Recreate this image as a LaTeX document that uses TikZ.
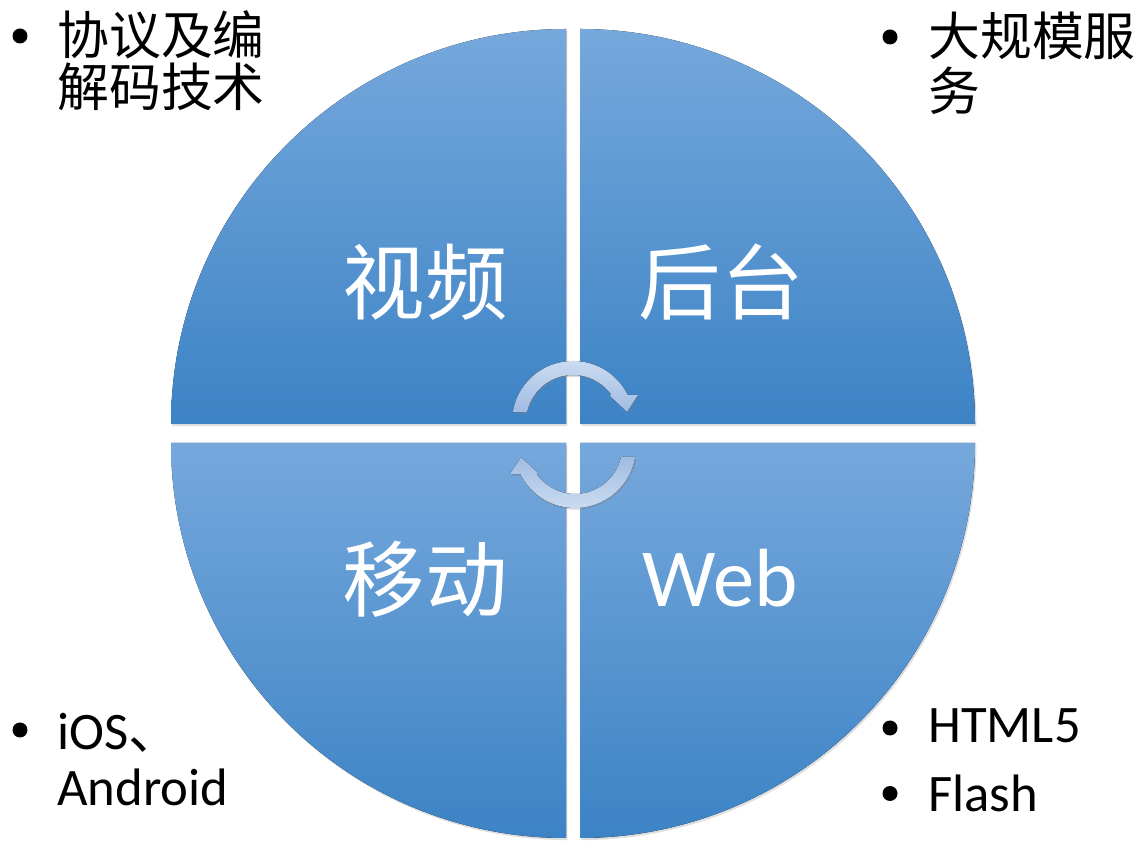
\documentclass[tikz,border=0pt]{standalone}
\usepackage{fontspec}
\setmainfont{Carlito}
\newfontfamily\cjk{Noto Sans CJK SC}
\usetikzlibrary{shadows}

\definecolor{quadTop}{RGB}{118,168,220}
\definecolor{quadBottom}{RGB}{60,131,197}
\definecolor{arrowTop}{RGB}{206,222,242}
\definecolor{arrowBottom}{RGB}{160,188,226}

\tikzset{
  quadrant/.style={top color=quadTop, bottom color=quadBottom,
    drop shadow={opacity=0.25, shadow xshift=0.8pt, shadow yshift=-1.2pt}},
  cyclearrow/.style={top color=arrowTop, bottom color=arrowBottom,
    drop shadow={opacity=0.3, shadow xshift=0.6pt, shadow yshift=-1pt}},
  title/.style={text=white, inner sep=0pt, font=\fontsize{47}{52}\selectfont},
  itemtext/.style={anchor=north west, inner sep=0pt, align=left},
  dot/.style={circle, fill=black, inner sep=0pt, minimum size=0.3cm}
}

\begin{document}
\begin{tikzpicture}[x=0.02cm, y=0.02cm]
    \useasboundingbox (0,0) rectangle (1142,841);

    % Four quarters
    \fill[quadrant] (566,417) -- ++(-395,0) arc (180:90:395) -- cycle;
    \fill[quadrant] (580,417) -- ++(0,395) arc (90:0:395) -- cycle;
    \fill[quadrant] (566,398) -- ++(0,-395) arc (270:180:395) -- cycle;
    \fill[quadrant] (580,398) -- ++(395,0) arc (0:-90:395) -- cycle;

    % Cycle arrows in the middle
    \foreach \r in {0,180} {
      \begin{scope}[rotate around={\r:(574,406.5)}]
        \fill[cyclearrow, shading angle=\r]
          ([shift={(170.6:61)}]573,419) arc (170.6:26.3:61)
          -- (638,446) -- (627,429) -- (609,446)
          -- ([shift={(35:47)}]573,419) arc (35:167.7:47) -- cycle;
      \end{scope}
    }

    % Titles
    \node[title] (video) at (425,559) {\cjk 视频};
    \node[title] (backend) at (721,559) {\cjk 后台};
    \node[title] (mobile) at (425,262) {\cjk 移动};
    \node[title] (web) at (720,263) {Web};

    % Bullet lists
    \node[dot] (dotCodec) at (20,805) {};
    \node[itemtext, font=\fontsize{29.5}{30}\selectfont\cjk] (codec) at (57,831)
        {协议及编\\解码技术};

    \node[dot] (dotServer) at (890,804) {};
    \node[itemtext, font=\fontsize{29.5}{31}\selectfont\cjk] (server) at (928,829)
        {大规模服\\务};

    \node[dot] (dotMobile) at (20,111) {};
    \node[itemtext, font=\fontsize{30}{31.75}\selectfont] (mobileOS) at (57,128)
        {iOS{\cjk 、}\\Android};

    \node[dot] (dotHtml) at (890,113) {};
    \node[itemtext, font=\fontsize{30}{36}\selectfont] (html) at (928,133) {HTML5};
    \node[dot] (dotFlash) at (890,47.5) {};
    \node[itemtext, font=\fontsize{30}{36}\selectfont] (flash) at (928,66) {Flash};
\end{tikzpicture}
\end{document}
